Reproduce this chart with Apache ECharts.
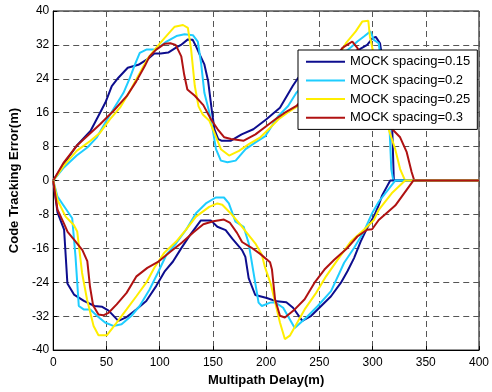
<!DOCTYPE html>
<html>
<head>
<meta charset="utf-8">
<script src="https://cdn.jsdelivr.net/npm/echarts@6/dist/echarts.min.js"></script>
<style>
  html, body { margin: 0; padding: 0; background: #fff; }
  #chart { width: 492px; height: 392px; }
</style>
</head>
<body>
<div id="chart"></div>
<script>
// Series names and colours
const seriesNames = ['MOCK spacing=0.15', 'MOCK spacing=0.2', 'MOCK spacing=0.25', 'MOCK spacing=0.3'];
const seriesColors = ['#0d0d8e', '#1ecdff', '#ffee00', '#b01212'];

// Axis ticks
const xTicks = [0, 50, 100, 150, 200, 250, 300, 350, 400];
const yTicks = [-40, -32, -24, -16, -8, 0, 8, 16, 24, 32, 40];

// Upper envelope (positive error), spacing 0.15
const up015Delay = [0,10,22,35,44,49,55,61,70,80,90,95,101,108,115,120,126.5,131,134.3,138,142,145.5,149,151.5,155,158,167,177,188,200,213,225,230,245,260,275,288,295,300,303,307,312,318.5,320,400];
const up015Err   = [0,3.9,8.2,11.7,16,18.4,22.3,24.2,26.6,27.3,28.9,30,30,30.2,31.3,32,33.3,33.2,31.6,29.5,27.4,23.5,16.5,12,9.8,9.4,9.4,10.9,12.1,14.4,17.2,22.3,24.2,26,28,29.5,31,32,33.6,33.9,32.4,24,12.1,0,0];

// Upper envelope, spacing 0.2
const up02Delay = [0,10,22,32,41,49,56.5,66,72,76.6,81.3,87.5,96.7,106.4,115.7,123.4,131.2,135.8,138.9,142,146.7,149.8,152.9,157.5,163.7,171.4,180.7,190,199.3,211.4,220.7,228.4,240,255,270,280,285.7,291.9,298,301.2,305.8,311,316,317.6,319.5,400];
const up02Err   = [0,3.1,5.9,7.8,10.2,13.7,16.8,20.7,24.2,27.3,30.1,30.9,30.9,32.8,34.1,34.5,34.3,32.8,27.7,20.7,16,12.1,7.4,4.7,4.3,4.7,7.4,9,10.5,15.2,17.6,20.7,23.5,26.5,29.5,31.5,32.8,34,35.2,33.2,32.4,22,12.1,2.7,0,0];

// Upper envelope, spacing 0.25
const up025Delay = [0,10,22,35,44,53.4,62.7,72,81.3,89,96.7,104.5,114.1,121.9,126.5,129.5,133,136.5,140.5,146.7,151.3,157.5,165.2,174.5,183.8,194.6,204,211.4,222.3,230,245,260,275,284.2,290.3,296,297.5,305,312,315.1,321.3,325.9,330.6,400];
const up025Err   = [0,3.5,7,9.4,11.3,14.5,17.2,21.1,25.4,28.9,31.3,33.6,36.3,36.7,36,31,22.3,17.5,15.6,14.1,11.3,7.4,5.9,7,8.6,10.2,12.5,14.4,16.4,17.6,21.5,26,32.4,35.2,37.5,37.7,34,25,16,12.1,7.4,2.7,0,0];

// Upper envelope, spacing 0.3
const up03Delay = [0,10,22,32,44,56.5,69,78,86,90.5,96.7,104.8,110,115,120.3,123,126,133,141,148.3,154.5,160.7,167,179,190,201,210.6,217.6,228.5,245,260,271.7,276,281,285.7,295,305,312,317,318.8,325.9,332.1,336.7,339.2,400];
const up03Err   = [0,4.3,8.2,10.5,13.3,16.4,19.9,23.4,27,29.3,30.9,32.3,32.4,32,29.3,25,21.5,20,17.8,14.4,12.1,10.2,9.8,9.4,10.9,13,14.8,16,17.6,22,27,31.3,32,32.8,31.3,27,20,15,12.5,12.1,10.2,6.7,2,0,0];

// Lower envelope (negative error), spacing 0.15
const lo015Delay = [0,4,10.2,13.3,19.5,28.8,38.8,46,52,61.2,69,78,87.4,96.7,104.5,112.5,120.2,129.5,138.7,148,154.2,162,168.2,177.4,180.5,183.6,189.8,200.6,209.9,219,225.3,234,242.4,251.7,261,270.3,276.4,282.6,288.8,294.9,301.2,305.8,309,316.6,400];
const lo015Err   = [0,-7.5,-11.6,-24.3,-26.9,-28.4,-29.6,-29.8,-30.7,-33.1,-32.2,-30.4,-28.4,-24.9,-21.5,-19.1,-16,-12.5,-9.4,-9.4,-10.9,-11.7,-13.7,-16.4,-18,-23,-27,-27.7,-28.5,-28.7,-30,-33.1,-31.9,-29.6,-27.3,-24.1,-21.4,-18.3,-14.4,-11.2,-8.5,-5.8,-3.5,0,0];

// Lower envelope, spacing 0.2
const lo02Delay = [0,4,11.6,17.8,20.9,24,28.6,34.8,41,48.7,56.4,64.2,73.5,81.2,90.5,98.2,106.3,115.5,124.8,134.1,143.4,152.7,160.4,165,171.2,178.9,183.6,188.2,192.9,196,203.7,208.4,216,226.9,237.8,248.5,261,273.3,282.6,291.9,299.6,305.8,321.3,400];
const lo02Err   = [0,-3.8,-6.6,-8.9,-17.9,-29.6,-30.4,-30.4,-31.9,-33.5,-34.3,-33.9,-31.9,-29.6,-25.7,-21.8,-17.5,-14.8,-11.6,-7.7,-5.4,-4,-4,-5.4,-9.7,-10.9,-14.8,-21.8,-28.8,-29.6,-28.8,-28.7,-30,-34.8,-32.3,-29.6,-26.1,-19.4,-15.9,-12,-7.7,-5,0,0];

// Lower envelope, spacing 0.25
const lo025Delay = [0,4,11.6,19.3,22.5,27.1,31.7,37.9,42.5,50.3,59.6,68.9,78.1,87.4,95.1,104.4,115.5,124.8,134.1,146.5,154.2,158.8,166.6,177.4,189.8,196,199,204.5,213,217.6,222.3,236.2,247,256.3,267.1,279.5,291.9,301.2,305.8,318,330.6,400];
const lo025Err   = [0,-4.6,-8.5,-10.5,-12,-21.8,-28,-34.3,-36.5,-36.5,-33.5,-30.4,-27.3,-24.1,-20.5,-17,-14.4,-11.6,-8.5,-6.2,-5.4,-5.7,-7.7,-10.9,-14.8,-17.5,-20.5,-24.5,-33.5,-37.4,-36.6,-30.4,-26.5,-22.6,-18.7,-14.4,-11.6,-9.3,-6.9,-3,0,0];

// Lower envelope, spacing 0.3
const lo03Delay = [0,4,10,13.5,19.7,27.4,32,34.5,37.5,42.5,47,52,59.6,68.9,78.2,88.4,98.4,110,121,131.8,141,150.4,160.4,165.8,172.8,177.4,186,194.4,203.7,205.5,208.4,213,217.6,226.9,236.2,245.5,254.8,264,276.4,285.7,294.9,299.6,305.8,321.3,338.3,400];
const lo03Err   = [0,-6.9,-10.1,-12.1,-14,-16.4,-19,-25,-29.5,-31.6,-31.8,-31.2,-29.2,-26.5,-22.6,-20.6,-19.2,-16.8,-14.6,-12.2,-10.3,-9.6,-9.2,-9.9,-12.4,-14.5,-15.8,-17.3,-19.3,-21,-28,-31.9,-32.3,-30.4,-28,-24.1,-21,-18.7,-15.9,-13.2,-11.6,-11.5,-9.3,-5.9,0,0];

const upper = [[up015Delay, up015Err], [up02Delay, up02Err], [up025Delay, up025Err], [up03Delay, up03Err]];
const lower = [[lo015Delay, lo015Err], [lo02Delay, lo02Err], [lo025Delay, lo025Err], [lo03Delay, lo03Err]];

function zip(xs, ys) { return xs.map((x, i) => [x, ys[i]]); }

const FONT = '"Liberation Sans", Arial, Helvetica, sans-serif';
// Legend key: a 2px horizontal bar centred in a 39x14 box
const LINE_ICON = 'path://M0,0L0,0M39,14L39,14M0,6L39,6L39,8L0,8Z';

const series = [];
[upper, lower].forEach(branch => {
  branch.forEach((pair, i) => {
    series.push({
      name: seriesNames[i],
      type: 'line',
      data: zip(pair[0], pair[1]),
      symbol: 'none',
      smooth: false,
      lineStyle: { color: seriesColors[i], width: 2 },
      itemStyle: { color: seriesColors[i] },
      z: 2,
      animation: false
    });
  });
});

const chart = echarts.init(document.getElementById('chart'), null, { renderer: 'canvas' });
chart.setOption({
  animation: false,
  backgroundColor: '#fff',
  grid: {
    left: 50.5, right: 10, top: 11, bottom: 40,
    show: true, borderColor: '#000', borderWidth: 1, backgroundColor: '#fff'
  },
  legend: {
    data: seriesNames.map((n, i) => ({ name: n, icon: LINE_ICON, itemStyle: { color: seriesColors[i] } })),
    orient: 'vertical',
    left: 298, top: 50,
    z: 100,
    itemWidth: 39, itemHeight: 14, itemGap: 4.7,
    padding: [4.7, 7, 4.6, 8],
    backgroundColor: '#fff',
    borderColor: '#000', borderWidth: 1, borderRadius: 0,
    textStyle: { fontFamily: FONT, fontSize: 13, color: '#000' },
    selectedMode: false
  },
  xAxis: {
    type: 'value', min: xTicks[0], max: xTicks[xTicks.length - 1], interval: 50,
    name: 'Multipath Delay(m)', nameLocation: 'middle', nameGap: 22,
    nameTextStyle: { fontFamily: FONT, fontSize: 13, fontWeight: 'bold', color: '#000' },
    axisLine: { show: true, onZero: false, lineStyle: { color: '#000', width: 1 } },
    axisTick: { show: true, inside: true, length: 4, lineStyle: { color: '#000' } },
    axisLabel: { fontFamily: FONT, fontSize: 12, color: '#000', margin: 7 },
    splitLine: { show: true, lineStyle: { color: '#555', width: 1, type: [6, 4] } }
  },
  yAxis: {
    type: 'value', min: yTicks[0], max: yTicks[yTicks.length - 1], interval: 8,
    name: 'Code Tracking Error(m)', nameLocation: 'middle', nameGap: 30,
    nameTextStyle: { fontFamily: FONT, fontSize: 13, fontWeight: 'bold', color: '#000' },
    axisLine: { show: true, onZero: false, lineStyle: { color: '#000', width: 1 } },
    axisTick: { show: true, inside: true, length: 4, lineStyle: { color: '#000' } },
    axisLabel: { fontFamily: FONT, fontSize: 12, color: '#000', margin: 4 },
    splitLine: { show: true, lineStyle: { color: '#555', width: 1, type: [6, 4] } }
  },
  series: series
});
</script>
</body>
</html>
